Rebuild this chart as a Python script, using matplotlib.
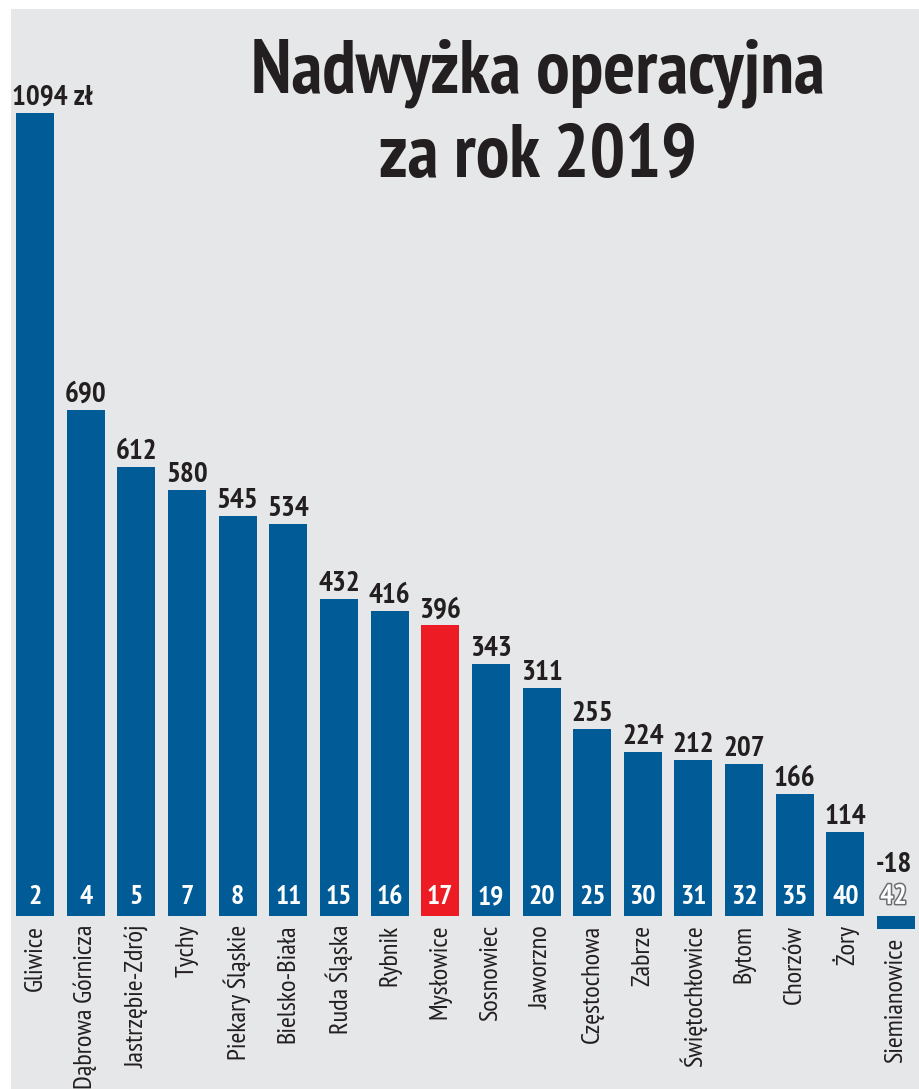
import matplotlib
matplotlib.use("Agg")
import matplotlib.pyplot as plt
from matplotlib.patches import Rectangle
import matplotlib.patheffects as pe

cities = ["Gliwice", "Dąbrowa Górnicza", "Jastrzębie-Zdrój", "Tychy", "Piekary Śląskie",
          "Bielsko-Biała", "Ruda Śląska", "Rybnik", "Mysłowice", "Sosnowiec", "Jaworzno",
          "Częstochowa", "Zabrze", "Świętochłowice", "Bytom", "Chorzów", "Żory", "Siemianowice"]
values = [1094, 690, 612, 580, 545, 534, 432, 416, 396, 343, 311, 255, 224, 212, 207, 166, 114, -18]
ranks = [2, 4, 5, 7, 8, 11, 15, 16, 17, 19, 20, 25, 30, 31, 32, 35, 40, 42]
value_labels = ["1094 zł", "690", "612", "580", "545", "534", "432", "416", "396", "343",
                "311", "255", "224", "212", "207", "166", "114", "-18"]
highlight = "Mysłowice"
title = "Nadwyżka operacyjna\nza rok 2019"

BLUE = "#005b96"
RED = "#ed1c24"
DARK = "#231f20"
BG = "#e6e7e8"

W, H = 919, 1089
plt.rcParams['font.family'] = ['PT Sans Narrow', 'Fira Sans Condensed', 'DejaVu Sans']

fig = plt.figure(figsize=(W / 100, H / 100), dpi=100, facecolor="white")
fig.patches.append(Rectangle((11 / W, 0), 1 - 11 / W, (H - 9) / H,
                             transform=fig.transFigure, facecolor=BG, edgecolor="none", zorder=-5))

ax = fig.add_axes([0, 0, 1, 1])
ax.set_facecolor("none")
step = 50.65
x0 = 35
scale = 0.734
zero_px = 916
ax.set_xlim(-x0 / step, (W - x0) / step)
ax.set_ylim(-(H - zero_px) / scale, zero_px / scale)
ax.axis("off")

xs = list(range(len(cities)))
colors = [RED if c == highlight else BLUE for c in cities]
ax.bar(xs, values, width=38 / step, color=colors, zorder=2)

for i, (c, v, r, lab) in enumerate(zip(cities, values, ranks, value_labels)):
    top = max(v, 0)
    if i == 0:
        ax.text(i - 0.45, top + 11, lab, ha="left", va="baseline", fontsize=21,
                fontweight="bold", color=DARK, zorder=3)
    elif v < 0:
        ax.text(i - 0.05, 60, lab, ha="center", va="baseline", fontsize=21,
                fontweight="bold", color=DARK, zorder=3)
    else:
        ax.text(i, top + 11, lab, ha="center", va="baseline", fontsize=21,
                fontweight="bold", color=DARK, zorder=3)
    if v < 0:
        t = ax.text(i - 0.05, 26, str(r), ha="center", va="center", fontsize=20,
                    fontweight="bold", color="white", zorder=3)
        t.set_path_effects([pe.Stroke(linewidth=2.2, foreground="#6d6e71"), pe.Normal()])
    else:
        ax.text(i, 26, str(r), ha="center", va="center", fontsize=20,
                fontweight="bold", color="white", zorder=3)
    ax.text(i, min(v, 0) - 12, c, rotation=90, ha="center", va="top", fontsize=19,
            color=DARK, zorder=3)

fig.text(538 / W, 1 - 115 / H, title, ha="center", va="center", fontsize=54,
         fontweight="bold", color=DARK, linespacing=1.3)

fig.savefig("out.png", dpi=100, facecolor="white")
